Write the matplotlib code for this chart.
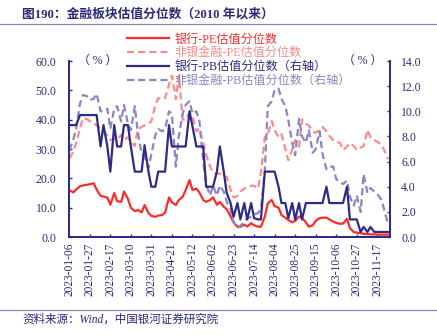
import matplotlib
matplotlib.use("Agg")
import matplotlib.pyplot as plt
from matplotlib.lines import Line2D
import pandas as pd

# Sampling dates (Tuesdays and Fridays, 2023)
dates = pd.date_range("2023-01-06", "2023-11-28", freq="W-FRI").union(
    pd.date_range("2023-01-06", "2023-11-28", freq="W-TUE"))

# 银行-PE估值分位数 (%) – left axis
bank_pe = [
    16.0, 15.2, 16.2, 17.3, 17.6, 17.8, 18.0, 18.3, 16.2, 14.0,
    13.8, 13.4, 11.0, 15.0, 12.2, 12.0, 15.5, 13.0, 10.0, 8.8,
    9.2, 8.4, 10.9, 8.2, 7.2, 6.9, 7.3, 7.5, 8.3, 13.5,
    11.8, 10.9, 12.6, 13.7, 16.0, 19.4, 16.0, 16.5, 15.2, 12.6,
    12.0, 12.6, 13.5, 11.0, 12.0, 10.3, 9.5, 7.0, 5.0, 3.5,
    3.5, 4.2, 3.6, 4.7, 4.0, 3.5, 3.5, 7.0, 11.5, 12.6,
    10.5, 10.0, 7.5, 6.6, 5.8, 5.0, 5.5, 7.0, 6.5, 5.0,
    3.5, 4.0, 5.5, 6.4, 6.6, 6.6, 6.0, 5.2, 4.8, 4.5,
    4.6, 6.2, 3.0, 1.7, 1.5, 1.3, 1.1, 1.0, 0.9, 0.9,
    0.8, 0.8, 0.8, 0.8]

# 非银金融-PE估值分位数 (%) – left axis
nonbank_pe = [
    26.8, 29.0, 32.0, 37.0, 40.5, 40.2, 39.5, 38.8, 38.0, 37.0,
    36.0, 34.5, 33.0, 33.5, 33.0, 34.8, 33.0, 34.0, 32.5, 31.0,
    36.5, 37.6, 38.0, 38.5, 39.5, 45.0, 47.3, 47.0, 47.3, 52.0,
    55.0, 47.0, 55.0, 40.0, 40.0, 42.5, 41.0, 36.0, 37.0, 32.0,
    28.0, 24.0, 22.0, 21.5, 21.7, 20.5, 20.5, 16.0, 13.5, 14.0,
    15.5, 16.5, 17.0, 17.5, 17.5, 16.5, 22.0, 34.0, 35.0, 39.5,
    36.5, 34.0, 35.0, 30.0, 26.2, 30.0, 33.0, 30.8, 40.0, 38.6,
    38.0, 36.0, 35.5, 36.5, 37.5, 36.0, 34.5, 33.0, 32.5, 32.0,
    29.7, 30.8, 32.0, 31.0, 29.7, 30.5, 31.0, 36.5, 34.0, 33.0,
    32.5, 31.5, 29.7, 26.5]

# 银行-PB估值分位数 (%) – right axis
bank_pb = [
    8.9, 8.9, 8.9, 9.7, 9.7, 9.7, 9.7, 9.7, 9.7, 7.2,
    8.9, 7.2, 5.2, 8.9, 7.2, 7.2, 8.9, 8.9, 7.2, 5.2,
    5.2, 5.2, 7.3, 5.2, 4.0, 4.0, 5.2, 5.2, 5.2, 8.9,
    7.2, 7.2, 7.2, 7.2, 7.2, 10.0, 8.8, 7.2, 7.2, 7.2,
    4.0, 4.0, 4.0, 5.2, 7.2, 5.2, 3.5, 2.7, 1.6, 2.7,
    1.4, 2.7, 1.4, 2.7, 1.5, 1.4, 1.4, 5.2, 5.2, 5.2,
    5.2, 4.0, 2.7, 2.7, 1.5, 2.7, 1.4, 2.7, 1.4, 2.7,
    2.7, 2.7, 2.7, 2.7, 2.7, 4.0, 2.7, 2.7, 2.7, 2.7,
    2.7, 4.0, 1.4, 1.4, 1.4, 0.4, 0.8, 0.4, 0.8, 0.4,
    0.4, 0.4, 0.4, 0.4]

# 非银金融-PB估值分位数 (%) – right axis
nonbank_pb = [
    6.9, 7.7, 8.6, 10.6, 11.3, 11.2, 10.9, 11.0, 11.4, 10.0,
    10.0, 10.2, 8.6, 10.2, 10.4, 9.2, 10.5, 9.0, 8.5, 10.4,
    8.4, 6.6, 6.4, 5.5, 6.6, 8.1, 8.6, 8.4, 8.6, 10.0,
    9.8, 5.6, 8.0, 9.8, 10.5, 10.8, 9.8, 10.0, 9.3, 6.0,
    4.2, 3.3, 4.1, 3.3, 4.1, 3.6, 2.8, 2.2, 1.2, 0.7,
    0.9, 1.2, 1.5, 1.6, 1.8, 1.9, 2.2, 5.3, 10.4, 10.8,
    11.7, 11.8, 11.0, 10.4, 9.3, 7.5, 6.5, 9.4, 8.0, 7.5,
    8.5, 6.7, 7.0, 8.4, 6.6, 5.4, 5.6, 5.6, 4.6, 4.4,
    4.2, 4.5, 3.2, 2.5, 3.3, 2.0, 5.0, 3.5, 3.9, 3.6,
    3.4, 3.0, 2.2, 1.0]

series_labels = ["银行-PE估值分位数", "非银金融-PE估值分位数",
                 "银行-PB估值分位数（右轴）", "非银金融-PB估值分位数（右轴）"]

tick_dates = pd.date_range("2023-01-06", "2023-11-17", freq="21D")
tick_labels = [d.strftime("%Y-%m-%d") for d in tick_dates]
left_ticks = [0, 10, 20, 30, 40, 50, 60]
right_ticks = [0, 2, 4, 6, 8, 10, 12, 14]

title = "图190：金融板块估值分位数（2010 年以来）"
source = "资料来源：Wind，中国银河证券研究院"

RED = "#ff2b2b"
PINK = "#ff8a8a"
NAVY = "#2e2a88"
LAV = "#8a86c6"
INK = "#2b2a7a"
RULE = "#8b88b8"

SERIF_CJK = ["Liberation Serif", "Noto Sans CJK SC"]
plt.rcParams["font.family"] = SERIF_CJK
plt.rcParams["axes.unicode_minus"] = False

W, H = 437, 335
fig = plt.figure(figsize=(W / 100, H / 100), dpi=100)
fig.patch.set_facecolor("white")

L, R, T, B = 69, 390, 61, 237
ax = fig.add_axes([L / W, 1 - B / H, (R - L) / W, (B - T) / H])
ax2 = ax.twinx()

LW = 1.6
DASH = (3.2, 1.8)
ax.plot(dates, bank_pe, color=RED, lw=LW, zorder=3)
ax.plot(dates, nonbank_pe, color=PINK, lw=LW, dashes=DASH, zorder=2)
ax2.plot(dates, bank_pb, color=NAVY, lw=LW, zorder=3)
ax2.plot(dates, nonbank_pb, color=LAV, lw=LW, dashes=DASH, zorder=2)

ax.set_xlim(pd.Timestamp("2023-01-05 18:00"), pd.Timestamp("2023-11-30"))
ax.set_ylim(0, 60)
ax2.set_ylim(0, 14)

ax.set_xticks(tick_dates)
ax.set_xticklabels(tick_labels, rotation=90, fontsize=8.3, color=INK)
ax.set_yticks(left_ticks)
ax.set_yticklabels([f"{v:.1f}" for v in left_ticks], fontsize=8.5, color=INK)
ax2.set_yticks(right_ticks)
ax2.set_yticklabels([f"{v:.1f}" for v in right_ticks], fontsize=8.5, color=INK)

for a in (ax, ax2):
    a.spines["top"].set_visible(False)
    for s in ("left", "right", "bottom"):
        a.spines[s].set_color(NAVY)
        a.spines[s].set_linewidth(1.3)
    a.set_facecolor("none")
ax.tick_params(axis="x", direction="in", length=2.5, width=1, color=NAVY, pad=4)
ax.tick_params(axis="y", direction="in", length=2.5, width=1, color=NAVY, pad=9)
ax2.tick_params(axis="y", direction="in", length=2.5, width=1, color=NAVY, pad=8)

ax.text(0.028, 1.0, "（ % ）", transform=ax.transAxes, fontsize=8.5, color=INK,
        ha="left", va="center")
ax2.text(0.975, 1.0, "（ % ）", transform=ax2.transAxes, fontsize=8.5, color=INK,
         ha="right", va="center")

# Legend drawn as coloured lines with matching coloured labels
handles = [
    Line2D([], [], color=RED, lw=LW),
    Line2D([], [], color=PINK, lw=LW, dashes=DASH),
    Line2D([], [], color=NAVY, lw=LW),
    Line2D([], [], color=LAV, lw=LW, dashes=DASH),
]
leg = fig.legend(handles, series_labels, loc="upper left",
                 bbox_to_anchor=(127 / W, 1 - 33.5 / H), frameon=False,
                 fontsize=8.7, handlelength=3.5, handletextpad=0.45,
                 labelspacing=0.15, borderpad=0, borderaxespad=0)
for txt, c in zip(leg.get_texts(), [RED, PINK, NAVY, LAV]):
    txt.set_color(c)

# Header and footer
fig.text(22 / W, 1 - 14 / H, title, fontsize=9.2, fontweight="bold",
         color=INK, ha="left", va="center")
fig.add_artist(Line2D([0, 1], [1 - 23.5 / H] * 2, color=RULE, lw=0.9,
                      transform=fig.transFigure))
fig.add_artist(Line2D([0, 1], [1 - 310 / H] * 2, color=RULE, lw=0.9,
                      transform=fig.transFigure))
fig.text(22 / W, 1 - 319.5 / H, source, fontsize=8.3, color=INK,
         ha="left", va="center", style="italic")

fig.savefig("out.png", dpi=100, facecolor="white")
